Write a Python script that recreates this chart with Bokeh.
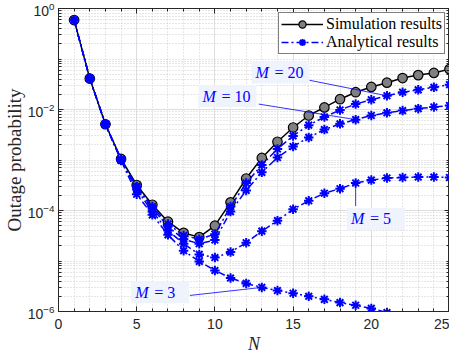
from bokeh.plotting import figure
from bokeh.models import (FixedTicker, LinearAxis, LogAxis, Legend, LegendItem,
                          CustomJSTickFormatter)
from bokeh.core.properties import value
from bokeh.embed import file_html
from bokeh.resources import INLINE

# ---------------- data ----------------
N = list(range(1, 26))
sim_results = [0.59, 0.041, 0.0051, 0.00105, 3.2e-4, 1.3e-4, 6.0e-5, 3.6e-5, 2.97e-5,
               5.0e-5, 1.45e-4, 4.3e-4, 1.1e-3, 2.3e-3, 4.4e-3, 7.6e-3, 0.011, 0.016,
               0.022, 0.028, 0.034, 0.042, 0.048, 0.053, 0.063]
ana_m20 = [0.59, 0.041, 0.0051, 0.00103, 3.0e-4, 1.2e-4, 5.4e-5, 3.2e-5, 2.7e-5,
           3.4e-5, 1.2e-4, 3.5e-4, 8.0e-4, 1.65e-3, 3.0e-3, 4.9e-3, 7.1e-3, 9.8e-3,
           0.0128, 0.0156, 0.0187, 0.022, 0.0245, 0.0275, 0.031]
ana_m10 = [0.59, 0.041, 0.0051, 0.00102, 2.9e-4, 1.1e-4, 4.8e-5, 2.7e-5, 2.2e-5,
           2.6e-5, 9.5e-5, 2.5e-4, 5.7e-4, 1.12e-3, 1.85e-3, 2.8e-3, 4.0e-3, 5.2e-3,
           6.3e-3, 7.6e-3, 8.6e-3, 9.5e-3, 0.0104, 0.0112, 0.012]
ana_m5 = [0.59, 0.041, 0.0051, 0.001, 2.6e-4, 9.5e-5, 4.0e-5, 2.2e-5, 1.35e-5,
          1.17e-5, 1.5e-5, 2.3e-5, 3.9e-5, 6.3e-5, 1.06e-4, 1.56e-4, 2.2e-4, 2.7e-4,
          3.5e-4, 4.0e-4, 4.4e-4, 4.5e-4, 4.6e-4, 4.6e-4, 4.5e-4]
ana_m3 = [0.59, 0.041, 0.0051, 0.00098, 2.1e-4, 8.2e-5, 3.3e-5, 1.6e-5, 9.8e-6,
          6.5e-6, 4.6e-6, 3.6e-6, 3.0e-6, 2.6e-6, 2.3e-6, 2.0e-6, 1.74e-6, 1.5e-6,
          1.33e-6, 1.15e-6, 9.5e-7, 8.0e-7, 6.8e-7, 5.8e-7, 5.0e-7]

x_major = [0, 5, 10, 15, 20, 25]
x_minor = list(range(0, 26))
y_major = [1e-6, 1e-4, 1e-2, 1e0]
y_minor = [k * 10.0 ** d for d in range(-6, 0) for k in range(1, 10)]

labels_M = ["= 20", "= 10", "= 5", "= 3"]
# label box centres (data coords) and leader lines (start -> point on curve)
box_x = [14.2, 10.8, 20.3, 6.5]
box_y = [0.054, 0.0185, 6.8e-5, 2.4e-6]
lead_x0 = [15.85, 12.8, 19.0, 8.4]
lead_y0 = [0.039, 0.0128, 1.23e-4, 2.08e-6]
lead_x1 = [21, 19, 19, 13]
lead_y1 = [ana_m20[20], ana_m10[18], ana_m5[18], ana_m3[12]]

# ---------------- figure ----------------
SERIF = "Liberation Serif"
SANS = "Liberation Sans"
DARK = "#262626"

p = figure(width=449, height=356, x_range=(0, 25), y_range=(1e-6, 1),
           y_axis_type="log", output_backend="svg", toolbar_location=None,
           min_border_left=0, min_border_right=0, min_border_top=8, min_border_bottom=0)
p.background_fill_color = "white"
p.border_fill_color = "white"
p.outline_line_color = DARK
p.outline_line_width = 1

xt = FixedTicker(ticks=x_major, minor_ticks=x_minor)
yt = FixedTicker(ticks=y_major, minor_ticks=y_minor)

p.xaxis.ticker = xt
p.yaxis.ticker = yt
for ax in (p.xaxis[0], p.yaxis[0]):
    ax.major_tick_in = 5
    ax.major_tick_out = 0
    ax.minor_tick_in = 3
    ax.minor_tick_out = 0
    ax.axis_line_color = DARK
    ax.major_tick_line_color = DARK
    ax.minor_tick_line_color = DARK
    ax.major_label_text_font = SANS
    ax.major_label_text_font_size = "14px"
    ax.major_label_text_color = DARK
    ax.axis_label_text_font = SERIF
    ax.axis_label_text_color = DARK

p.xaxis.axis_label = "N"
p.xaxis.axis_label_text_font_style = "italic"
p.xaxis.axis_label_text_font_size = "18px"
p.xaxis.axis_label_standoff = 2
p.xaxis.major_label_standoff = 7

p.yaxis.axis_label = "Outage probability"
p.yaxis.axis_label_text_font_style = "normal"
p.yaxis.axis_label_text_font_size = "19px"
p.yaxis.axis_label_standoff = 0
p.yaxis.major_label_standoff = 4

empty = CustomJSTickFormatter(code="return ''")
top_ax = LinearAxis(ticker=xt, formatter=empty, major_label_text_font_size="0px",
                    major_label_standoff=0, major_tick_in=5, major_tick_out=0,
                    minor_tick_in=3, minor_tick_out=0, axis_line_color=DARK,
                    major_tick_line_color=DARK, minor_tick_line_color=DARK)
right_ax = LogAxis(ticker=yt, formatter=empty, major_label_text_font_size="0px",
                   major_label_standoff=0, major_tick_in=5, major_tick_out=0,
                   minor_tick_in=3, minor_tick_out=0, axis_line_color=DARK,
                   major_tick_line_color=DARK, minor_tick_line_color=DARK)
p.add_layout(top_ax, "above")
p.add_layout(right_ax, "right")

for g in (p.xgrid[0], p.ygrid[0]):
    g.grid_line_color = "#dedede"
    g.grid_line_width = 1
    g.minor_grid_line_color = "#cdcdcd"
    g.minor_grid_line_dash = "1 2"
    g.minor_grid_line_width = 1
p.xgrid.ticker = xt
p.ygrid.ticker = yt

# ---------------- series ----------------
sim_line = p.line(N, sim_results, line_color="black", line_width=1.5)
sim_pts = p.scatter(N, sim_results, marker="circle", size=9.5, fill_color="#808080",
                    line_color="black", line_width=1.2)

ana_lines = []
ana_pts = []
for ys in (ana_m3, ana_m5, ana_m10, ana_m20):
    ln = p.line(N, ys, line_color="blue", line_width=1.5, line_dash="7 3 2 3")
    pt = p.scatter(N, ys, marker="asterisk", size=9.5, line_color="blue", line_width=2)
    ana_lines.append(ln)
    ana_pts.append(pt)

# ---------------- annotations ----------------
p.segment(lead_x0, lead_y0, lead_x1, lead_y1, line_color="blue", line_width=0.8)
p.rect(box_x, box_y, width=58, height=22, width_units="screen", height_units="screen",
       fill_color="#eff3fb", line_color=None)
p.text(box_x, box_y, text=["M"] * 4, x_offset=-25, text_align="left",
       text_baseline="middle", text_font=value(SERIF), text_font_style="italic",
       text_font_size="16px", text_color="blue")
p.text(box_x, box_y, text=labels_M, x_offset=-6, text_align="left",
       text_baseline="middle", text_font=value(SERIF), text_font_size="16px",
       text_color="blue")

# ---------------- legend ----------------
legend = Legend(items=[
    LegendItem(label="Simulation results", renderers=[sim_line, sim_pts]),
    LegendItem(label="Analytical results", renderers=[ana_lines[3], ana_pts[3]]),
], location="top_right")
legend.label_text_font = SERIF
legend.label_text_font_size = "16px"
legend.label_text_color = "black"
legend.glyph_width = 42
legend.glyph_height = 18
legend.label_height = 18
legend.label_standoff = 3
legend.spacing = 0
legend.padding = 2
legend.margin = 4
legend.border_line_color = "black"
legend.border_line_width = 1
legend.background_fill_color = "white"
legend.background_fill_alpha = 1
p.add_layout(legend)

open("out.html", "w").write(file_html(p, INLINE))
